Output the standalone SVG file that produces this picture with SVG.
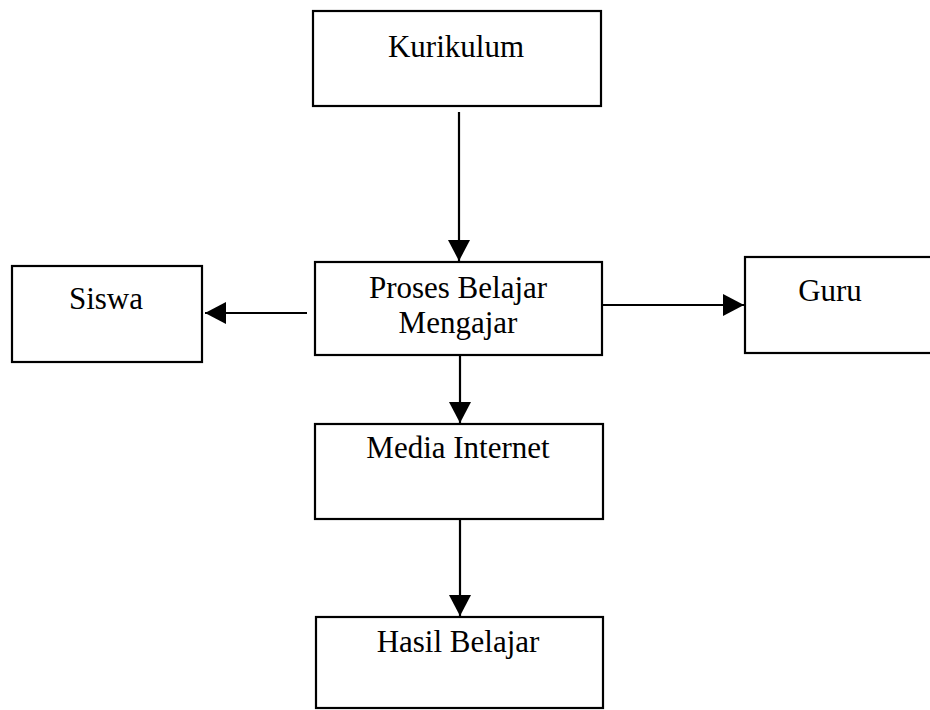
<svg xmlns="http://www.w3.org/2000/svg" width="930" height="710" viewBox="0 0 930 710">
<style>
rect{fill:#fff;stroke:#000;stroke-width:2.2}
text{font-family:"Liberation Serif","Times New Roman",serif;font-size:31px;fill:#000;text-anchor:middle}
.c line{stroke:#000;stroke-width:2.2;fill:none}
</style>
<defs>
<marker id="ah" markerUnits="userSpaceOnUse" markerWidth="22" markerHeight="22" refX="21" refY="11" orient="auto">
<path d="M0,0 L21,11 L0,22 Z" fill="#000"/>
</marker>
</defs>
<rect x="0" y="0" width="930" height="710" style="stroke:none"/>
<g id="kurikulum"><rect x="313" y="11" width="288" height="95"/><text x="456" y="57">Kurikulum</text></g>
<g id="proses"><rect x="315" y="262" width="287" height="93"/><text x="458" y="298">Proses Belajar</text><text x="458" y="333">Mengajar</text></g>
<g id="siswa"><rect x="12" y="266" width="190" height="96"/><text x="106" y="309">Siswa</text></g>
<g id="guru"><rect x="745" y="257" width="200" height="96"/><text x="830" y="301">Guru</text></g>
<g id="media"><rect x="315" y="424" width="288" height="95"/><text x="458" y="458">Media Internet</text></g>
<g id="hasil"><rect x="316" y="617" width="287" height="91"/><text x="458" y="652">Hasil Belajar</text></g>
<g class="c" id="connectors">
<line x1="459" y1="112" x2="459" y2="261" marker-end="url(#ah)"/>
<line x1="460" y1="356" x2="460" y2="423" marker-end="url(#ah)"/>
<line x1="460" y1="520" x2="460" y2="616" marker-end="url(#ah)"/>
<line x1="307" y1="313" x2="205" y2="313" marker-end="url(#ah)"/>
<line x1="603" y1="305" x2="744" y2="305" marker-end="url(#ah)"/>
</g>
</svg>
